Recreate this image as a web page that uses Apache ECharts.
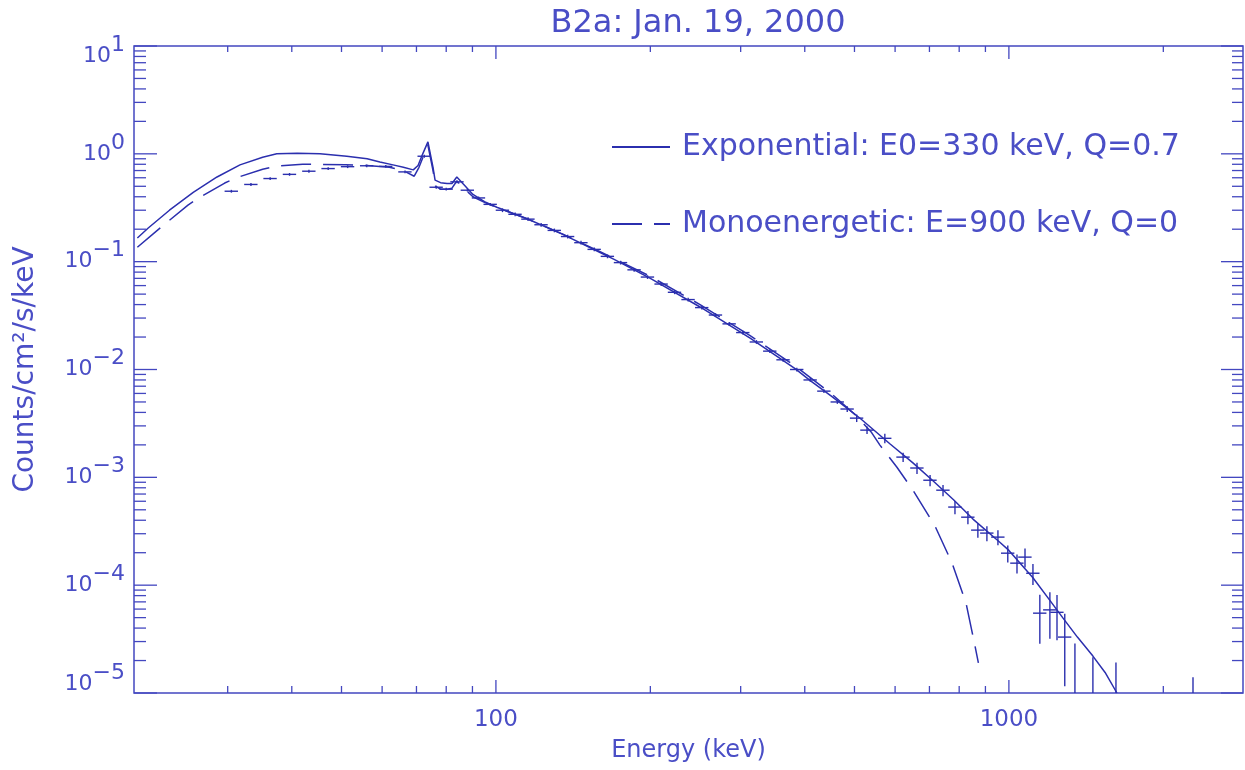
<!DOCTYPE html>
<html><head><meta charset="utf-8">
<script src="https://cdn.jsdelivr.net/npm/echarts@6/dist/echarts.min.js"></script>
<style>html,body{margin:0;padding:0;background:#fff}#c{width:1245px;height:770px}</style>
</head><body><div id="c"></div>
<script>
// ---------- texts ----------
const titleText = 'B2a: Jan. 19, 2000';
const xAxisName = 'Energy (keV)';
const yAxisName = 'Counts/cm²/s/keV';
const expName = 'Exponential: E0=330 keV, Q=0.7';
const monoName = 'Monoenergetic: E=900 keV, Q=0';

// ---------- model curves ----------
const expE = [20, 21, 23.1, 25.7, 28.6, 31.7, 35.1, 37.4, 41, 45.4, 51.2, 56.1, 59.4, 63, 66, 69, 70.5, 72, 73.7, 75.4, 76.1, 78, 80.3, 82.1, 83.9, 86.2, 90.2, 95, 100.4, 115, 135, 160, 170, 200, 250, 313, 383, 410, 450, 512, 586, 650, 711, 780, 851, 960, 1000, 1114, 1200, 1273, 1360, 1458, 1540, 1624];
const expV = [0.166, 0.205, 0.30, 0.44, 0.61, 0.79, 0.93, 1.0, 1.01, 1.0, 0.95, 0.90, 0.84, 0.79, 0.75, 0.71, 0.78, 1.0, 1.29, 0.75, 0.57, 0.54, 0.53, 0.53, 0.61, 0.53, 0.42, 0.36, 0.32, 0.25, 0.179, 0.121, 0.105, 0.070, 0.038, 0.0195, 0.0102, 0.0079, 0.0057, 0.00355, 0.00205, 0.00136, 0.00093, 0.00062, 0.00041, 0.00025, 0.00021, 0.000117, 0.000073, 0.000050, 0.000033, 0.000022, 0.0000155, 0.00001];

const monoE = [20, 21.9, 22.9, 25.1, 26.5, 29.6, 31.2, 35.1, 37.4, 42, 45, 51, 56, 62, 66, 69.3, 70.8, 72.2, 73.7, 75.4, 76.3, 78, 80.3, 82.1, 83.9, 86.2, 90.2, 95, 100.4, 115, 135, 160, 200, 250, 313, 383, 450, 505, 540, 560.5, 605, 650, 718, 775, 825, 858, 872];
const monoV = [0.136, 0.196, 0.234, 0.335, 0.397, 0.536, 0.60, 0.72, 0.77, 0.80, 0.80, 0.79, 0.78, 0.75, 0.70, 0.62, 0.75, 0.95, 1.2, 0.70, 0.50, 0.47, 0.47, 0.48, 0.56, 0.49, 0.40, 0.355, 0.318, 0.25, 0.18, 0.123, 0.073, 0.040, 0.0206, 0.0108, 0.0060, 0.0037, 0.0026, 0.00199, 0.00124, 0.00076, 0.000352, 0.00016, 0.000068, 0.000028, 0.000019];

// ---------- measured count spectrum ----------
const dataE = [30.5, 33.3, 36.3, 39.6, 43.2, 47.1, 51.4, 56, 61, 66.5, 72.5, 76.5, 80, 84, 88, 92.5, 97.5,
  103, 109, 115.5, 122.5, 130, 138, 146.5, 155.5, 165, 175, 186, 197.5, 210, 223, 237, 252, 268, 285, 303, 322, 342, 363, 386, 410, 436, 463,
  484, 505, 529, 573, 622, 662, 702, 744, 785, 832, 870, 906, 952, 995, 1037, 1075, 1114, 1149, 1202, 1241, 1285, 1345, 1458, 1617, 2285];
const dataV = [0.45, 0.52, 0.59, 0.645, 0.69, 0.73, 0.76, 0.775, 0.765, 0.68, 0.95, 0.49, 0.47, 0.55, 0.46, 0.39, 0.34,
  0.30, 0.275, 0.248, 0.22, 0.195, 0.171, 0.150, 0.130, 0.112, 0.098, 0.084, 0.072, 0.062, 0.052, 0.0445, 0.0375, 0.032, 0.0265, 0.022, 0.0180, 0.0148, 0.0123, 0.0100, 0.0080, 0.0063, 0.0050,
  0.0043, 0.00354, 0.00274, 0.0023, 0.00154, 0.00122, 0.00094, 0.00076, 0.00053, 0.000427, 0.000324, 0.000304, 0.000279, 0.000198, 0.00016, 0.000182, 0.000129, 0.000055, 0.000059, 0.000056, 0.000033, 0.000008, 0.000006, 0.000006, 0.000004];
const dataErr = [0.03, 0.03, 0.03, 0.03, 0.03, 0.03, 0.03, 0.03, 0.03, 0.03, 0.03, 0.03, 0.03, 0.03, 0.03, 0.03, 0.03,
  0.04, 0.04, 0.04, 0.04, 0.04, 0.04, 0.04, 0.04, 0.04, 0.04, 0.04, 0.04, 0.04, 0.04, 0.04, 0.04, 0.04, 0.04, 0.04, 0.04, 0.04, 0.04, 0.04, 0.04, 0.04, 0.04,
  0.06, 0.08, 0.08, 0.10, 0.10, 0.12, 0.12, 0.12, 0.14, 0.14, 0.15, 0.16, 0.16, 0.18, 0.20, 0.20, 0.22, 0.48, 0.46, 0.45, 0.65, 2.6, 2.58, 2.2, 2.5];
const dataBinHalf = 0.03;

// ---------- axes ----------
const xRange = [19.7, 2860];
const yRange = [1e-5, 10];
const xMajorTicks = [100, 1000];
const xMinorTicks = [30, 40, 50, 60, 70, 80, 90, 200, 300, 400, 500, 600, 700, 800, 900, 2000];
const yMajorTicks = [1e-5, 1e-4, 1e-3, 1e-2, 1e-1, 1, 10];
const yMinorMultipliers = [2, 3, 4, 5, 6, 7, 8, 9];
const xLabelValues = [100, 1000];

// ---------- style ----------
const C_TEXT = '#4a4ec6';
const C_AXIS = '#4347c0';
const C_LINE = '#2b2fae';
const FONT = "'DejaVu Sans', sans-serif";

const yMinorTicks = [];
yMajorTicks.slice(0, -1).forEach(d => yMinorMultipliers.forEach(m => yMinorTicks.push(d * m)));

function tickSeries(values, isX, lenA, lenB) {
  return {
    type: 'custom', silent: true, z: 5,
    data: values.map(v => isX ? [v, 1] : [100, v]),
    renderItem: function (params, api) {
      const cs = params.coordSys;
      const p = api.coord([api.value(0), api.value(1)]);
      const st = { stroke: C_AXIS, lineWidth: 1.3 };
      if (isX) {
        const yb = cs.y + cs.height, yt = cs.y;
        return { type: 'group', children: [
          { type: 'line', shape: { x1: p[0], y1: yb, x2: p[0], y2: yb - lenA }, style: st },
          { type: 'line', shape: { x1: p[0], y1: yt, x2: p[0], y2: yt + lenB }, style: st }
        ] };
      } else {
        const xl = cs.x, xr = cs.x + cs.width;
        return { type: 'group', children: [
          { type: 'line', shape: { x1: xl, y1: p[1], x2: xl + lenA, y2: p[1] }, style: st },
          { type: 'line', shape: { x1: xr, y1: p[1], x2: xr - lenB, y2: p[1] }, style: st }
        ] };
      }
    }
  };
}

function supExp(v) {
  const e = Math.round(Math.log10(v));
  const ex = String(e).replace('-', '−');
  if (v <= yRange[0] * 1.0001) return '{bl|10}{sl|' + ex + '}';
  if (v >= yRange[1] * 0.9999) return '{bh|10}{sh|' + ex + '}';
  return '{b|10}{s|' + ex + '}';
}

const baseTok = { color: C_TEXT, fontSize: 22, fontFamily: FONT, verticalAlign: 'bottom' };
const supTok = { color: C_TEXT, fontSize: 22, fontFamily: FONT, verticalAlign: 'top' };

const chart = echarts.init(document.getElementById('c'), null, { renderer: 'canvas' });
chart.setOption({
  animation: false,
  backgroundColor: '#fff',
  title: {
    text: titleText, left: 693, top: 3, textAlign: 'center',
    textStyle: { color: C_TEXT, fontSize: 32, fontWeight: 'normal', fontFamily: FONT }
  },
  legend: {
    data: [expName, monoName],
    orient: 'vertical', left: 606, top: 125,
    itemWidth: 58, itemHeight: 14, itemGap: 43,
    itemStyle: { opacity: 0 },
    textStyle: { color: C_TEXT, fontSize: 30, fontFamily: FONT, lineHeight: 34, padding: [0, 0, 0, 7] },
    selectedMode: false
  },
  grid: { left: 134, right: 2, top: 46, bottom: 77, show: true, borderColor: C_AXIS, borderWidth: 1.5, containLabel: false },
  xAxis: {
    type: 'log', logBase: 10, min: xRange[0], max: xRange[1],
    name: xAxisName, nameLocation: 'middle', nameGap: 46,
    nameTextStyle: { color: C_TEXT, fontSize: 24, fontFamily: FONT },
    axisLine: { show: false }, axisTick: { show: false }, splitLine: { show: false },
    axisLabel: {
      color: C_TEXT, fontSize: 23, fontFamily: FONT, margin: 16,
      showMinLabel: false, showMaxLabel: false,
      formatter: v => xLabelValues.indexOf(Math.round(v)) >= 0 ? String(Math.round(v)) : ''
    }
  },
  yAxis: {
    type: 'log', logBase: 10, min: yRange[0], max: yRange[1],
    name: yAxisName, nameLocation: 'middle', nameGap: 94,
    nameTextStyle: { color: C_TEXT, fontSize: 28, fontFamily: FONT },
    axisLine: { show: false }, axisTick: { show: false }, splitLine: { show: false },
    axisLabel: {
      margin: 9, formatter: supExp, padding: [0, 0, 11, 0],
      rich: {
        b: Object.assign({}, baseTok),
        s: Object.assign({}, supTok, { padding: [0, 0, 11, 0] }),
        bl: Object.assign({}, baseTok, { padding: [0, 0, 18, 0] }),
        sl: Object.assign({}, supTok, { padding: [0, 0, 29, 0] }),
        bh: Object.assign({}, baseTok, { padding: [20, 0, 0, 0] }),
        sh: Object.assign({}, supTok, { padding: [20, 0, 11, 0] })
      }
    }
  },
  series: [
    {
      name: expName, type: 'line', symbol: 'none', z: 3,
      lineStyle: { color: C_LINE, width: 1.5, type: 'solid' }, itemStyle: { color: C_LINE },
      data: expE.map((e, i) => [e, expV[i]])
    },
    {
      name: monoName, type: 'line', symbol: 'none', z: 3,
      lineStyle: { color: C_LINE, width: 1.5, type: [30, 12] }, itemStyle: { color: C_LINE },
      data: monoE.map((e, i) => [e, monoV[i]])
    },
    {
      name: 'data', type: 'custom', z: 4,
      data: dataE.map((e, i) => [e, dataV[i], Math.max(dataV[i] * (1 - dataErr[i]), 1e-7), dataV[i] * (1 + dataErr[i])]),
      renderItem: function (params, api) {
        const cs = params.coordSys;
        const e = api.value(0), v = api.value(1), lo = api.value(2), hi = api.value(3);
        const l = api.coord([e * (1 - dataBinHalf), v]), r = api.coord([e * (1 + dataBinHalf), v]);
        const b = api.coord([e, lo]), t = api.coord([e, hi]);
        const st = { stroke: C_LINE, lineWidth: 1.4 };
        return {
          type: 'group',
          clipPath: { type: 'rect', shape: { x: cs.x, y: cs.y, width: cs.width, height: cs.height } },
          children: [
            { type: 'line', shape: { x1: l[0], y1: l[1], x2: r[0], y2: r[1] }, style: st },
            { type: 'line', shape: { x1: b[0], y1: b[1], x2: t[0], y2: t[1] }, style: st }
          ]
        };
      }
    },
    tickSeries(xMajorTicks, true, 13, 13),
    tickSeries(xMinorTicks, true, 7, 6),
    tickSeries(yMajorTicks, false, 23, 22),
    tickSeries(yMinorTicks, false, 12, 11)
  ]
});
</script></body></html>
